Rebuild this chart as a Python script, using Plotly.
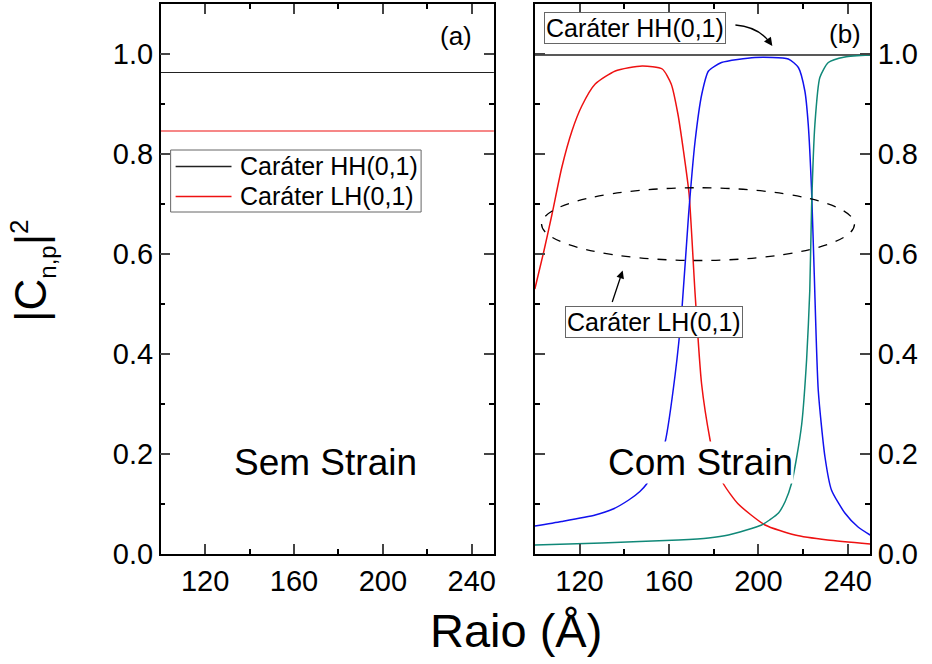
import plotly.graph_objects as go

# ---------------- data ----------------
# Panel (a): sem strain (constant character)
xa = [100, 250]
hh_a = [0.963, 0.963]
lh_a = [0.846, 0.846]

# Panel (b): com strain
x_hh_b = [100, 250]
hh_b = [0.998, 0.998]

x_red = [100, 104, 107.7, 112, 116.6, 121, 127, 136, 148, 157, 161, 164, 166.5, 169,
         171.7, 174.6, 178.4, 181, 184.4, 191, 203, 216.4, 231, 250]
y_red = [0.53, 0.605, 0.68, 0.772, 0.846, 0.896, 0.94, 0.966, 0.976, 0.97, 0.94, 0.88,
         0.806, 0.72, 0.52, 0.34, 0.228, 0.175, 0.14, 0.10, 0.058, 0.038, 0.028, 0.02]

x_blue = [100, 112, 127, 135, 142, 147, 150, 155, 158.3, 162.8, 165.8, 168.8, 171.7, 174.7,
          177.7, 183.5, 198.5, 213.4, 217.9, 220.8, 222.3, 223.8, 225, 226.8, 229.8,
          232.7, 238.7, 244.6, 250]
y_blue = [0.056, 0.065, 0.078, 0.09, 0.108, 0.125, 0.14, 0.18, 0.224, 0.36, 0.49, 0.68,
          0.826, 0.92, 0.966, 0.983, 0.993, 0.99, 0.973, 0.926, 0.86, 0.727, 0.56, 0.327,
          0.194, 0.128, 0.082, 0.054, 0.038]

x_teal = [100, 130, 164.3, 177.7, 186.6, 201.5, 205, 209, 212, 214.9, 217, 219.4, 221.6,
          223, 223.8, 225.3, 227.5, 231.3, 238.7, 250]
y_teal = [0.018, 0.022, 0.028, 0.032, 0.038, 0.058, 0.068, 0.082, 0.105, 0.142, 0.19,
          0.26, 0.39, 0.527, 0.693, 0.86, 0.953, 0.983, 0.994, 0.998]

x_ticks = [120, 160, 200, 240]
y_ticks = [0.0, 0.2, 0.4, 0.6, 0.8, 1.0]
legend_names = ["Caráter HH(0,1)", "Caráter LH(0,1)"]

# ---------------- figure ----------------
W, H = 932, 664
HE = 648  # effective rendered height of the page
FONT = "Arial, Liberation Sans, sans-serif"
RED, BLUE, TEAL, BLACK = "#ee1111", "#1111ee", "#108878", "#222222"


def px(x):
    return x / W


def py(y):
    return 1 - y / HE


fig = go.Figure()

fig.add_trace(go.Scatter(x=xa, y=hh_a, mode="lines", name=legend_names[0], showlegend=False,
                         line=dict(color=BLACK, width=1.2), xaxis="x", yaxis="y"))
fig.add_trace(go.Scatter(x=xa, y=lh_a, mode="lines", name=legend_names[1], showlegend=False,
                         line=dict(color=RED, width=1.2), xaxis="x", yaxis="y"))

line_kw = dict(width=1.5, shape="spline", smoothing=0.6)
fig.add_trace(go.Scatter(x=x_hh_b, y=hh_b, mode="lines", showlegend=False,
                         line=dict(color=BLACK, width=1.5), xaxis="x2", yaxis="y2"))
fig.add_trace(go.Scatter(x=x_red, y=y_red, mode="lines", showlegend=False,
                         line=dict(color=RED, **line_kw), xaxis="x2", yaxis="y2"))
fig.add_trace(go.Scatter(x=x_blue, y=y_blue, mode="lines", showlegend=False,
                         line=dict(color=BLUE, **line_kw), xaxis="x2", yaxis="y2"))
fig.add_trace(go.Scatter(x=x_teal, y=y_teal, mode="lines", showlegend=False,
                         line=dict(color=TEAL, **line_kw), xaxis="x2", yaxis="y2"))

ydom = [py(554), py(4)]
xaxis_common = dict(range=[100, 250], tickvals=x_ticks, ticks="inside", ticklen=10,
                    tickwidth=1.5, showline=True, linecolor="black", linewidth=1.5,
                    mirror="ticks", showgrid=False, zeroline=False,
                    tickfont=dict(family=FONT, size=29, color="black"),
                    minor=dict(dtick=20, tick0=100, ticks="inside", ticklen=5,
                               tickwidth=1.5, tickcolor="black", showgrid=False))
yaxis_common = dict(range=[0, 1.1], tickvals=y_ticks, tickformat=".1f", ticks="inside",
                    ticklen=10, tickwidth=1.5, showline=True, linecolor="black",
                    linewidth=1.5, mirror="ticks", showgrid=False, zeroline=False,
                    domain=ydom, tickfont=dict(family=FONT, size=29, color="black"),
                    minor=dict(dtick=0.1, tick0=0, ticks="inside", ticklen=5,
                               tickwidth=1.5, tickcolor="black", showgrid=False))

fig.update_layout(
    width=W, height=H,
    margin=dict(l=0, r=0, t=0, b=0),
    paper_bgcolor="white", plot_bgcolor="white",
    font=dict(family=FONT, color="black"),
    showlegend=False,
    xaxis=dict(domain=[px(161), px(495)], anchor="y", **xaxis_common),
    yaxis=dict(anchor="x", side="left", **yaxis_common),
    xaxis2=dict(domain=[px(536), px(872)], anchor="y2", **xaxis_common),
    yaxis2=dict(anchor="x2", side="right", **yaxis_common),
)

# legend box for panel (a), drawn in paper space
fig.add_shape(type="rect", xref="paper", yref="paper", x0=px(171), x1=px(422),
              y0=py(212), y1=py(150), line=dict(color="#666666", width=1),
              fillcolor="white", layer="above")
for name, color, ly in [(legend_names[0], BLACK, 166.5), (legend_names[1], RED, 196.5)]:
    fig.add_shape(type="line", xref="paper", yref="paper", x0=px(176), x1=px(232),
                  y0=py(ly), y1=py(ly), line=dict(color=color, width=1.3), layer="above")
    fig.add_annotation(text=name, x=px(239), y=py(ly), xref="paper", yref="paper",
                       xanchor="left", yanchor="middle", showarrow=False,
                       font=dict(family=FONT, size=25, color="black"))

# dashed ellipse (panel b)
fig.add_shape(type="circle", xref="x2", yref="y2", x0=103, x1=243, y0=0.587, y1=0.7325,
              line=dict(color="black", width=1.3, dash="dash"))

annots = [
    dict(text="Sem Strain", x=px(326), y=py(463), size=37, bg=None),
    dict(text="Com Strain", x=px(702), y=py(463), size=37, bg="white"),
    dict(text="(a)", x=px(457), y=py(36), size=26, bg=None),
    dict(text="(b)", x=px(847), y=py(34), size=26, bg=None),
]
for a in annots:
    fig.add_annotation(text=a["text"], x=a["x"], y=a["y"], xref="paper", yref="paper",
                       xanchor="center", yanchor="middle", showarrow=False,
                       font=dict(family=FONT, size=a["size"], color="black"),
                       bgcolor=a["bg"] if a["bg"] else "rgba(0,0,0,0)", borderpad=0)

for text, cx, cy in [("Caráter HH(0,1)", 636, 28), ("Caráter LH(0,1)", 655, 322)]:
    fig.add_annotation(text=text, x=px(cx), y=py(cy), xref="paper", yref="paper",
                       xanchor="center", yanchor="middle", showarrow=False,
                       font=dict(family=FONT, size=25, color="black"),
                       bgcolor="white", bordercolor="#666666", borderwidth=1, borderpad=1)

# curved arrow pointing to the HH(0,1) line in panel (b)
fig.add_shape(type="path", xref="paper", yref="paper",
              path=f"M {px(737)},{py(25)} Q {px(760)},{py(27)} {px(771)},{py(42)}",
              line=dict(color="black", width=1.3))
fig.add_annotation(x=px(774), y=py(46), ax=-5, ay=-7, xref="paper", yref="paper",
                   text="", showarrow=True, arrowhead=2, arrowsize=1.3, arrowwidth=1.3,
                   arrowcolor="black")
# arrow pointing to the ellipse
fig.add_annotation(x=139.3, y=0.567, ax=134.4, ay=0.501, xref="x2", yref="y2",
                   axref="x2", ayref="y2", text="", showarrow=True, arrowhead=2,
                   arrowsize=1.2, arrowwidth=1.3, arrowcolor="black")

# axis titles
fig.add_annotation(text="Raio (Å)", x=px(517), y=py(630), xref="paper", yref="paper",
                   xanchor="center", yanchor="middle", showarrow=False,
                   font=dict(family=FONT, size=47, color="black"))
fig.add_annotation(
    text="|C<sub><span style='font-size:24px'>n,p</span></sub>|"
         "<sup><span style='font-size:26px'>2</span></sup>",
    x=px(32), y=py(270), xref="paper", yref="paper", xanchor="center",
    yanchor="middle", textangle=-90, showarrow=False,
    font=dict(family=FONT, size=44, color="black"))

fig.write_html("out.html")
